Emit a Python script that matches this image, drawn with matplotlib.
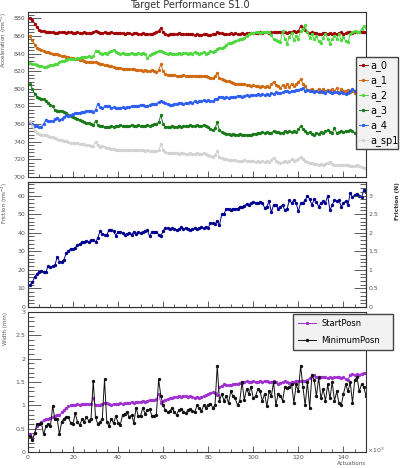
import numpy as np
import matplotlib
matplotlib.use('Agg')
import matplotlib.pyplot as plt
from matplotlib.ticker import MultipleLocator, FuncFormatter

# actuation index (x 10^3)
actuations = np.arange(1, 151)

a_0 = [880, 878, 874, 870, 867, 866, 866, 865, 864, 864,
       864, 863, 863, 864, 864, 864, 863, 864, 864, 863,
       863, 864, 863, 863, 864, 863, 863, 863, 864, 866,
       864, 863, 863, 864, 863, 863, 864, 863, 863, 863,
       863, 863, 862, 863, 863, 862, 863, 863, 862, 862,
       863, 862, 862, 862, 862, 863, 864, 866, 869, 864,
       862, 861, 862, 862, 862, 862, 863, 862, 862, 862,
       862, 862, 862, 861, 862, 861, 861, 862, 862, 861,
       861, 862, 862, 864, 863, 863, 862, 862, 862, 863,
       862, 863, 862, 862, 863, 862, 863, 863, 863, 863,
       863, 863, 864, 863, 864, 864, 863, 864, 864, 865,
       864, 864, 865, 864, 863, 864, 864, 866, 864, 866,
       871, 869, 867, 864, 863, 864, 863, 863, 862, 862,
       863, 863, 862, 863, 862, 863, 862, 863, 864, 862,
       863, 864, 864, 863, 864, 865, 864, 865, 864, 864]

a_1 = [860, 855, 850, 846, 845, 844, 843, 842, 842, 841,
       840, 840, 839, 838, 837, 837, 836, 836, 835, 835,
       834, 834, 833, 833, 832, 831, 831, 830, 830, 831,
       829, 828, 828, 827, 827, 826, 826, 825, 824, 824,
       824, 823, 823, 822, 822, 822, 822, 821, 821, 821,
       820, 821, 820, 820, 821, 820, 819, 821, 828, 820,
       817, 816, 816, 816, 816, 815, 815, 815, 816, 815,
       815, 815, 814, 815, 815, 815, 814, 815, 814, 813,
       812, 812, 814, 818, 812, 811, 810, 809, 809, 808,
       807, 806, 806, 806, 805, 805, 804, 804, 803, 804,
       803, 803, 802, 803, 802, 803, 802, 805, 808, 804,
       803, 801, 804, 802, 805, 802, 806, 803, 805, 808,
       811, 806, 803, 799, 799, 800, 798, 797, 800, 796,
       800, 797, 799, 798, 800, 797, 801, 795, 800, 798,
       797, 799, 796, 798, 795, 796, 796, 799, 794, 793]

a_2 = [829, 828, 828, 827, 826, 826, 825, 825, 826, 827,
       827, 828, 828, 830, 832, 832, 833, 834, 834, 834,
       834, 835, 835, 836, 836, 836, 837, 836, 837, 843,
       843, 841, 840, 841, 840, 842, 843, 844, 842, 841,
       840, 841, 840, 839, 840, 841, 840, 840, 841, 840,
       841, 839, 835, 838, 840, 841, 842, 843, 843, 842,
       841, 840, 841, 840, 839, 840, 841, 840, 841, 841,
       840, 841, 840, 842, 841, 840, 841, 842, 840, 841,
       843, 842, 843, 845, 846, 846, 847, 850, 852, 852,
       853, 854, 855, 856, 857, 858, 860, 862, 863, 863,
       864, 864, 863, 864, 865, 864, 865, 861, 856, 855,
       854, 853, 866, 857, 851, 859, 863, 855, 860, 856,
       866, 868, 872, 864, 858, 862, 856, 860, 854, 852,
       858, 862, 857, 851, 856, 860, 857, 862, 855, 859,
       854, 853, 862, 864, 866, 865, 864, 868, 871, 870]

a_3 = [805, 800, 794, 791, 790, 789, 788, 786, 784, 782,
       780, 776, 775, 775, 775, 774, 772, 770, 769, 768,
       767, 766, 765, 764, 762, 761, 761, 760, 759, 763,
       759, 758, 758, 757, 757, 757, 758, 757, 758, 758,
       759, 758, 758, 758, 758, 759, 758, 758, 759, 758,
       758, 758, 759, 758, 759, 760, 760, 762, 770, 760,
       757, 757, 757, 758, 757, 757, 758, 757, 758, 758,
       758, 759, 758, 758, 759, 758, 758, 759, 758, 757,
       754, 753, 755, 762, 753, 751, 750, 749, 749, 748,
       749, 748, 748, 749, 748, 747, 748, 748, 748, 749,
       749, 750, 750, 751, 750, 751, 750, 750, 752, 751,
       751, 750, 750, 752, 751, 752, 751, 752, 751, 754,
       758, 754, 752, 750, 751, 749, 748, 750, 749, 751,
       750, 752, 753, 751, 750, 755, 750, 751, 752, 751,
       752, 752, 753, 752, 750, 750, 749, 748, 748, 748]

a_4 = [762, 760, 758, 758, 757, 757, 760, 765, 764, 764,
       763, 766, 767, 765, 766, 768, 770, 769, 770, 771,
       772, 773, 773, 774, 774, 775, 775, 775, 774, 776,
       783, 779, 778, 780, 781, 780, 778, 779, 778, 778,
       778, 779, 778, 779, 779, 780, 781, 780, 781, 782,
       782, 781, 780, 782, 783, 783, 783, 785, 786, 785,
       784, 783, 782, 782, 783, 783, 784, 784, 783, 784,
       784, 785, 784, 786, 785, 786, 786, 787, 786, 787,
       786, 786, 788, 789, 791, 791, 790, 791, 790, 791,
       791, 791, 792, 792, 791, 792, 793, 792, 793, 793,
       793, 794, 793, 794, 793, 794, 793, 795, 794, 796,
       795, 795, 796, 797, 797, 796, 798, 797, 799, 799,
       800, 801, 798, 799, 797, 798, 796, 797, 796, 797,
       796, 795, 797, 796, 795, 796, 796, 795, 796, 795,
       794, 795, 798, 800, 798, 797, 797, 799, 797, 798]

a_sp1 = [763, 758, 752, 750, 749, 748, 747, 747, 746, 745,
         745, 744, 743, 742, 742, 741, 741, 740, 739, 738,
         738, 738, 737, 737, 737, 736, 736, 735, 735, 740,
         736, 734, 735, 734, 733, 733, 732, 732, 731, 731,
         731, 731, 730, 730, 731, 730, 730, 730, 730, 730,
         730, 729, 730, 729, 729, 729, 729, 730, 737, 730,
         728, 727, 727, 727, 727, 727, 726, 727, 727, 726,
         726, 727, 726, 726, 727, 726, 726, 727, 726, 725,
         724, 723, 725, 729, 723, 721, 720, 720, 719, 719,
         719, 719, 718, 718, 718, 719, 718, 718, 718, 718,
         717, 718, 717, 718, 717, 718, 717, 719, 722, 718,
         717, 716, 717, 718, 717, 718, 720, 718, 719, 720,
         723, 720, 718, 717, 716, 716, 715, 715, 714, 715,
         714, 715, 716, 717, 715, 714, 714, 713, 714, 713,
         713, 713, 712, 712, 712, 713, 712, 711, 710, 710]

friction = [12, 13.5, 16, 18, 19, 19.5, 19, 19, 22, 21.5,
            22, 22.5, 27, 24.5, 24.5, 25.5, 29, 30, 31.5, 31,
            32, 33.5, 34, 35, 35, 35.5, 35, 36, 36, 35,
            37, 41, 39.5, 39, 39, 41.5, 41.5, 41, 38.5, 40.5,
            40.5, 40, 39, 39.5, 40, 39, 40.5, 39.5, 40.5, 40,
            40.5, 41, 41.5, 38, 40.5, 40.5, 40.5, 39, 38, 41,
            42.5, 42.5, 42, 42.5, 42, 41.5, 42, 43, 42, 42.5,
            42, 41.5, 42, 42.5, 42, 42.5, 43, 42.5, 43, 42.5,
            45.5, 45, 44.5, 46.5, 44, 50, 50, 53, 53, 52.5,
            53, 53, 53, 54, 54, 54.5, 55.5, 55, 56, 56.5,
            56, 56, 56.5, 56, 53.5, 54, 57, 51, 55, 55,
            53, 54, 55, 52, 53, 57.5, 56, 57.5, 56, 51.5,
            56, 56, 57.5, 60, 58, 55, 58, 56.5, 54, 56,
            57, 56, 60, 52, 55, 57.5, 57, 57.5, 54, 56,
            57, 55, 61.5, 59, 60.5, 61, 60, 59, 63, 62]

start_posn = [0.38, 0.30, 0.40, 0.55, 0.60, 0.65, 0.68, 0.70, 0.72, 0.73,
              0.75, 0.78, 0.80, 0.80, 0.85, 0.90, 0.95, 0.98, 1.00, 1.02,
              1.02, 1.03, 1.02, 1.03, 1.03, 1.04, 1.03, 1.04, 1.15, 1.00,
              1.01, 1.02, 1.04, 1.06, 1.05, 1.03, 1.02, 1.03, 1.04, 1.03,
              1.05, 1.04, 1.05, 1.06, 1.05, 1.07, 1.06, 1.08, 1.07, 1.08,
              1.10, 1.08, 1.10, 1.12, 1.11, 1.12, 1.13, 1.25, 1.05, 1.10,
              1.12, 1.14, 1.15, 1.17, 1.18, 1.18, 1.20, 1.19, 1.21, 1.20,
              1.19, 1.20, 1.18, 1.17, 1.18, 1.17, 1.18, 1.20, 1.22, 1.25,
              1.26, 1.28, 1.27, 1.22, 1.40, 1.42, 1.45, 1.43, 1.44, 1.43,
              1.45, 1.46, 1.47, 1.48, 1.49, 1.50, 1.52, 1.50, 1.51, 1.52,
              1.50, 1.51, 1.52, 1.51, 1.53, 1.52, 1.51, 1.50, 1.52, 1.50,
              1.45, 1.48, 1.50, 1.52, 1.50, 1.49, 1.50, 1.51, 1.53, 1.52,
              1.52, 1.53, 1.52, 1.55, 1.58, 1.63, 1.65, 1.60, 1.58, 1.60,
              1.62, 1.60, 1.58, 1.60, 1.59, 1.61, 1.60, 1.62, 1.58, 1.60,
              1.56, 1.55, 1.65, 1.67, 1.65, 1.67, 1.66, 1.68, 1.70, 1.70]

minimum_posn = [0.35, 0.25, 0.40, 0.60, 0.60, 0.62, 0.38, 0.55, 0.60, 0.55,
                0.99, 0.70, 0.72, 0.38, 0.65, 0.72, 0.75, 0.75, 0.62, 0.60,
                0.83, 0.65, 0.58, 0.70, 0.65, 0.75, 0.67, 0.72, 1.53, 0.75,
                0.60, 0.65, 0.70, 1.56, 0.65, 0.55, 0.72, 0.62, 0.77, 0.63,
                0.58, 0.80, 0.82, 0.85, 0.75, 0.80, 0.63, 0.95, 0.77, 0.78,
                0.95, 0.82, 0.90, 0.92, 0.78, 0.78, 0.80, 1.56, 1.20, 1.00,
                0.90, 0.85, 0.88, 0.95, 0.85, 0.80, 0.90, 0.93, 0.87, 0.83,
                0.90, 0.92, 0.88, 0.85, 1.00, 0.95, 0.88, 1.00, 0.95, 1.02,
                1.04, 0.95, 1.00, 1.85, 1.10, 1.25, 1.10, 1.20, 1.05, 1.30,
                1.20, 1.15, 1.00, 1.10, 1.50, 1.12, 1.35, 1.25, 1.40, 1.15,
                1.20, 1.35, 1.30, 1.10, 1.25, 0.98, 1.30, 1.20, 1.50, 1.00,
                1.25, 1.20, 1.10, 1.40, 1.38, 1.40, 1.45, 1.05, 1.45, 1.30,
                1.85, 1.40, 1.00, 1.50, 0.95, 1.65, 1.55, 1.20, 1.60, 1.15,
                1.35, 1.10, 1.45, 1.15, 1.50, 1.10, 1.30, 1.05, 1.00, 1.25,
                1.45, 1.30, 1.50, 1.05, 1.55, 1.60, 1.30, 1.45, 1.40, 1.20]

accel_series = [("a_0", a_0, "#a00000"), ("a_1", a_1, "#d06a10"),
                ("a_2", a_2, "#4ed83e"), ("a_3", a_3, "#1a7a1a"),
                ("a_4", a_4, "#2f5ff0"), ("a_sp1", a_sp1, "#d2d2d2")]

TICK_COL = "#444444"
LBL = dict(fontsize=4, color="#555555")


def root_fmt(v, pos):
    s = ("%.1f" % v).rstrip("0").rstrip(".")
    return s


def style_axes(ax, ymaj, ymin, xlabels=False):
    ax.set_xlim(0, 150)
    ax.xaxis.set_major_locator(MultipleLocator(20))
    ax.xaxis.set_minor_locator(MultipleLocator(5))
    ax.yaxis.set_major_locator(MultipleLocator(ymaj))
    ax.yaxis.set_minor_locator(MultipleLocator(ymin))
    ax.yaxis.set_major_formatter(FuncFormatter(root_fmt))
    ax.tick_params(axis="both", which="both", direction="in", top=False, right=False,
                   labelsize=4.5, labelcolor="#555555", color=TICK_COL, width=0.6, pad=2)
    ax.tick_params(axis="y", which="major", length=9)
    ax.tick_params(axis="y", which="minor", length=4.5)
    ax.tick_params(axis="x", which="major", length=4.5)
    ax.tick_params(axis="x", which="minor", length=2.2)
    if not xlabels:
        ax.tick_params(axis="x", labelbottom=False)
    for sp in ax.spines.values():
        sp.set_color("#333333")
        sp.set_linewidth(0.8)


fig = plt.figure(figsize=(4.04, 4.68), dpi=100)
L, R = 0.069, 0.906
ax_top = fig.add_axes([L, 0.622, R - L, 0.974 - 0.622])
ax_mid = fig.add_axes([L, 0.344, R - L, 0.611 - 0.344])
ax_bot = fig.add_axes([L, 0.034, R - L, 0.333 - 0.034])

# top panel: accelerations
for name, vals, col in accel_series:
    ax_top.plot(actuations, vals, color=col, lw=0.7, marker="o", ms=1.4, label=name)
ax_top.set_ylim(700, 887)
style_axes(ax_top, 20, 4)
ax_top.set_ylabel("Acceleration (ms$^{-2}$)", loc="top", labelpad=3, **LBL)

fig.legend(*ax_top.get_legend_handles_labels(), loc="upper left",
           bbox_to_anchor=(0.880, 0.879, 0.104, 0.0), mode="expand",
           fontsize=7, handlelength=0.9, handletextpad=0.3, labelspacing=0.42,
           borderpad=0.35, borderaxespad=0, fancybox=False, framealpha=1,
           facecolor="#f2f2f2", edgecolor="#444444", markerscale=1.0)

# middle panel: friction
ax_mid.plot(actuations, friction, color="#00008f", lw=0.7, marker="o", ms=1.4)
ax_mid.set_ylim(0, 67.3)
style_axes(ax_mid, 10, 2)
ax_mid.set_ylabel("Friction (ms$^{-2}$)", loc="top", labelpad=5, **LBL)
ax_n = ax_mid.twinx()
ax_n.set_ylim(0, 67.3 / 20)
ax_n.yaxis.set_major_locator(MultipleLocator(0.5))
ax_n.yaxis.set_minor_locator(MultipleLocator(0.1))
ax_n.yaxis.set_major_formatter(FuncFormatter(root_fmt))
ax_n.tick_params(axis="y", which="both", direction="in", labelsize=4.5,
                 labelcolor="#555555", color=TICK_COL, width=0.6, pad=2)
ax_n.tick_params(axis="y", which="major", length=9)
ax_n.tick_params(axis="y", which="minor", length=4.5)
ax_n.set_ylabel("Friction (N)", loc="top", labelpad=12, fontsize=4.2,
                color="#333333", fontweight="bold")
for sp in ax_n.spines.values():
    sp.set_color("#333333")
    sp.set_linewidth(0.8)

# bottom panel: widths
ax_bot.plot(actuations, start_posn, color="#a030d0", lw=0.7, marker="o", ms=1.4,
            label="StartPosn")
ax_bot.plot(actuations, minimum_posn, color="#111111", lw=0.7, marker="o", ms=1.4,
            label="MinimumPosn")
ax_bot.set_ylim(0, 3)
style_axes(ax_bot, 0.5, 0.1, xlabels=True)
ax_bot.set_ylabel("Width (mm)", loc="top", labelpad=5, **LBL)
ax_bot.set_xlabel("Actuations", loc="right", labelpad=1, **LBL)
fig.text(0.909, 0.037, r"$\times10^{3}$", fontsize=4.5, color="#555555", va="center")

fig.legend(*ax_bot.get_legend_handles_labels(), loc="upper left",
           bbox_to_anchor=(0.725, 0.329, 0.248, 0.0), mode="expand",
           fontsize=6, handlelength=2.2, handletextpad=0.6, labelspacing=1.0,
           borderpad=0.6, borderaxespad=0, fancybox=False, framealpha=1,
           facecolor="#f2f2f2", edgecolor="#444444")

fig.text(0.47, 0.999, "Target Performance S1.0", ha="center", va="top",
         fontsize=7, color="#333333")

fig.savefig("out.png", dpi=100, facecolor="white")
